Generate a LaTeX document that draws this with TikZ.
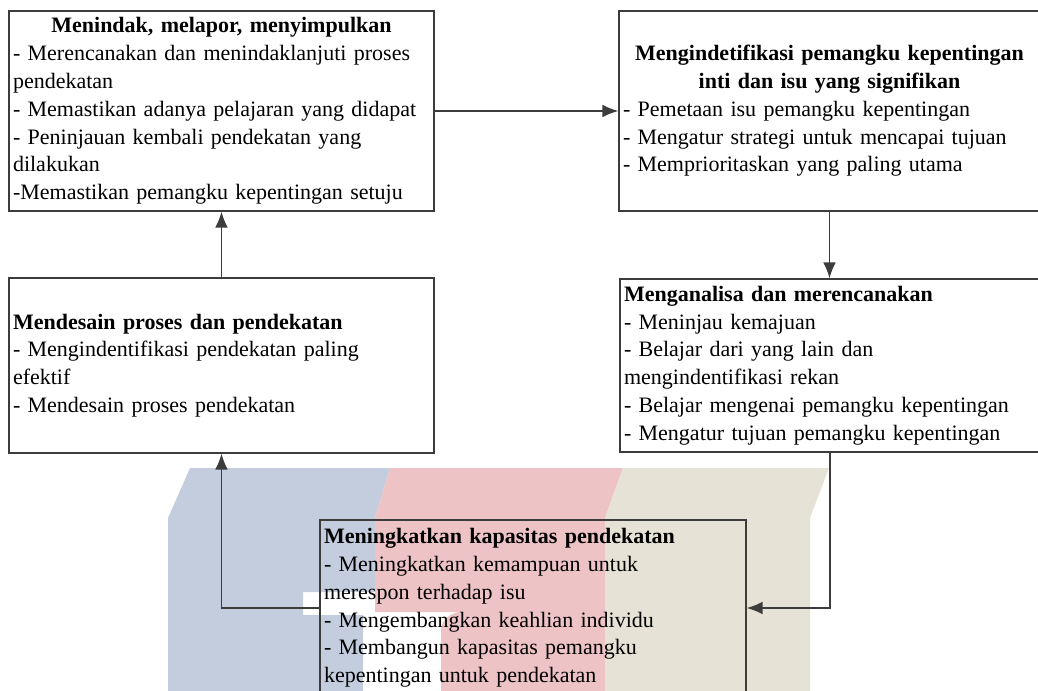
\documentclass[tikz,border=0pt]{standalone}
\usepackage{fontspec}
\setmainfont{Liberation Serif}
\usetikzlibrary{arrows.meta}
\definecolor{wmblue}{RGB}{196,205,222}
\definecolor{wmred}{RGB}{238,195,197}
\definecolor{wmbeige}{RGB}{230,227,214}
\definecolor{garis}{RGB}{60,60,60}

\begin{document}
\begin{tikzpicture}[x=0.75pt, y=-0.75pt]
    \clip (0, 0) rectangle (1038, 691);
    \tikzset{Kotak/.style={rectangle, draw=garis, line width=0.9pt, align=left, inner xsep=3pt, inner ysep=1pt, font=\fontsize{16.5pt}{20.85pt}\selectfont}}
    \tikzset{Panah/.style={-{Latex[length=12pt, width=9.5pt]}, draw=garis, line width=1.1pt}}

    % watermark
    \fill[wmblue] (190, 468) -- (390, 468) -- (375, 518) -- (375, 592) -- (303, 592) -- (303, 615) -- (363, 615) -- (363, 691) -- (168, 691) -- (168, 518) -- cycle;
    \fill[wmred] (390, 468) -- (623, 468) -- (605, 518) -- (605, 691) -- (441, 691) -- (441, 630) to[out=90, in=180] (462, 612) -- (375, 612) -- (375, 518) -- cycle;
    \fill[wmbeige] (623, 468) -- (829, 468) -- (810, 518) -- (810, 691) -- (605, 691) -- (605, 518) -- cycle;

    \node[Kotak, text width=312.75pt, minimum height=150pt] (tindak) at (221.5, 111) {{\centering\bfseries Menindak, melapor, menyimpulkan\par}- Merencanakan dan menindaklanjuti proses\\pendekatan\\- Memastikan adanya pelajaran yang didapat\\- Peninjauan kembali pendekatan yang\\dilakukan\\-Memastikan pemangku kepentingan setuju}; % langkah 5
    \node[Kotak, text width=309.75pt, minimum height=150pt] (identifikasi) at (829.5, 111) {{\centering\bfseries Mengindetifikasi pemangku kepentingan\\inti dan isu yang signifikan\par}- Pemetaan isu pemangku kepentingan\\- Mengatur strategi untuk mencapai tujuan\\- Memprioritaskan yang paling utama}; % langkah 1
    \node[Kotak, text width=312.75pt, minimum height=131.25pt] (desain) at (221.5, 365.5) {\textbf{Mendesain proses dan pendekatan}\\- Mengindentifikasi pendekatan paling\\efektif\\- Mendesain proses pendekatan}; % langkah 4
    \node[Kotak, text width=309pt, minimum height=129.75pt] (analisa) at (830, 365.5) {\textbf{Menganalisa dan merencanakan}\\- Meninjau kemajuan\\- Belajar dari yang lain dan\\mengindentifikasi rekan\\- Belajar mengenai pemangku kepentingan\\- Mengatur tujuan pemangku kepentingan}; % langkah 2
    \node[Kotak, text width=313.5pt, minimum height=132pt] (kapasitas) at (533, 608) {\textbf{Meningkatkan kapasitas pendekatan}\\- Meningkatkan kemampuan untuk\\merespon terhadap isu\\- Mengembangkan keahlian individu\\- Membangun kapasitas pemangku\\kepentingan untuk pendekatan}; % langkah 3

    \draw[Panah] (tindak) -- (identifikasi);
    \draw[Panah] (identifikasi.south) -- (identifikasi.south |- analisa.north);
    \draw[Panah] (analisa.south) |- (kapasitas.east);
    \draw[Panah] (kapasitas.west) -| (desain.south);
    \draw[Panah] (desain) -- (tindak);
\end{tikzpicture}
\end{document}
